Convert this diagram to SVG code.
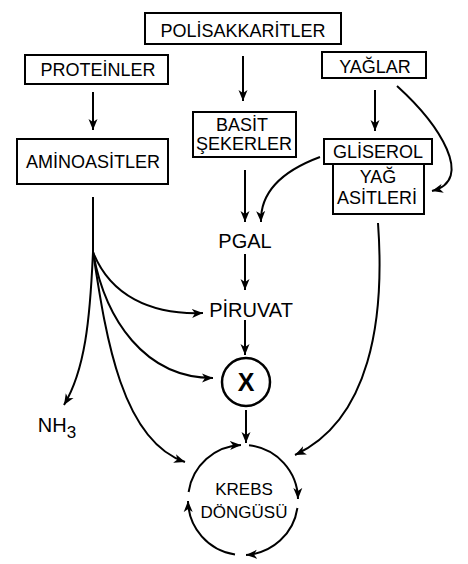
<svg xmlns="http://www.w3.org/2000/svg" width="468" height="564" viewBox="0 0 468 564">
<style>
.box{fill:#fff;stroke:#000;stroke-width:2}
.t{font-family:"Liberation Sans",Arial,sans-serif;fill:#000;text-anchor:middle}
.bt{font-size:18px}
.lt{font-size:20px}
.kt{font-size:17px}
.c{fill:none;stroke:#000;stroke-width:2;marker-end:url(#ah)}
.p{fill:none;stroke:#000;stroke-width:2}
</style>
<defs>
<marker id="ah" markerUnits="userSpaceOnUse" markerWidth="12" markerHeight="10" refX="11" refY="5" orient="auto" viewBox="0 0 12 10">
<path d="M0,0.5 L11,5 L0,9.5 L3,5 Z" fill="#000"/>
</marker>
</defs>
<rect width="468" height="564" fill="#fff"/>
<g id="polisakkaritler"><rect class="box" x="145" y="13" width="196" height="31"/><text class="t bt" x="243" y="37">POLİSAKKARİTLER</text></g>
<g id="proteinler"><rect class="box" x="25" y="55" width="143" height="29"/><text class="t bt" x="98" y="76">PROTEİNLER</text></g>
<g id="yaglar"><rect class="box" x="322" y="52" width="104" height="26"/><text class="t bt" x="375" y="73">YAĞLAR</text></g>
<g id="aminoasitler"><rect class="box" x="17" y="139" width="151" height="45"/><text class="t bt" x="93" y="168">AMİNOASİTLER</text></g>
<g id="basit"><rect class="box" x="193" y="112" width="103" height="45"/><text class="t bt" x="242" y="131">BASİT</text><text class="t bt" x="244" y="150">ŞEKERLER</text></g>
<g id="yagasitleri"><rect class="box" x="333" y="164" width="91" height="50"/><text class="t bt" x="378" y="183">YAĞ</text><text class="t bt" x="377" y="204">ASİTLERİ</text></g>
<g id="gliserol"><rect class="box" x="324" y="139" width="108" height="25"/><text class="t bt" x="378" y="158">GLİSEROL</text></g>
<g id="pgal"><text class="t lt" x="245" y="248">PGAL</text></g>
<g id="piruvat"><text class="t lt" x="251" y="317">PİRUVAT</text></g>
<g id="x"><circle cx="246" cy="382" r="24" fill="#fff" stroke="#000" stroke-width="2.5"/><text class="t" x="246" y="391" font-size="25" font-weight="bold">X</text></g>
<g id="nh3"><text class="t lt" x="57" y="432">NH<tspan font-size="17" dy="6">3</tspan></text></g>
<g id="krebs"><text class="t kt" x="244" y="495">KREBS</text><text class="t kt" x="244" y="518">DÖNGÜSÜ</text></g>
<g id="connectors">
<path class="c" d="M243 56 L243 101"/>
<path class="c" d="M93 92 L93 130"/>
<path class="c" d="M375 90 L375 131"/>
<path class="c" d="M397 86 C440 125 475 180 432 191"/>
<path class="c" d="M245 170 L245 222"/>
<path class="c" d="M320 157 C285 170 260 190 261 222"/>
<path class="c" d="M245 254 L245 290"/>
<path class="c" d="M245 320 L245 355"/>
<path class="c" d="M246 410 L246 443"/>
<path class="p" d="M93 197 L93 252"/>
<path class="c" d="M93 252 C90 320 85 370 64 405"/>
<path class="c" d="M93 252 C110 295 150 315 203 313"/>
<path class="c" d="M93 252 C105 320 145 378 213 378"/>
<path class="c" d="M93 252 C105 330 120 440 185 462"/>
<path class="c" d="M378 223 C385 320 370 420 295 455"/>
<path class="c" d="M188.6 492 A55 55 0 0 1 241 445.04"/>
<path class="c" d="M249 445.3 A55 55 0 0 1 298 499"/>
<path class="c" d="M297.4 508 A55 55 0 0 1 246 554.9"/>
<path class="c" d="M235 554.4 A55 55 0 0 1 188 501"/>
</g>
</svg>
